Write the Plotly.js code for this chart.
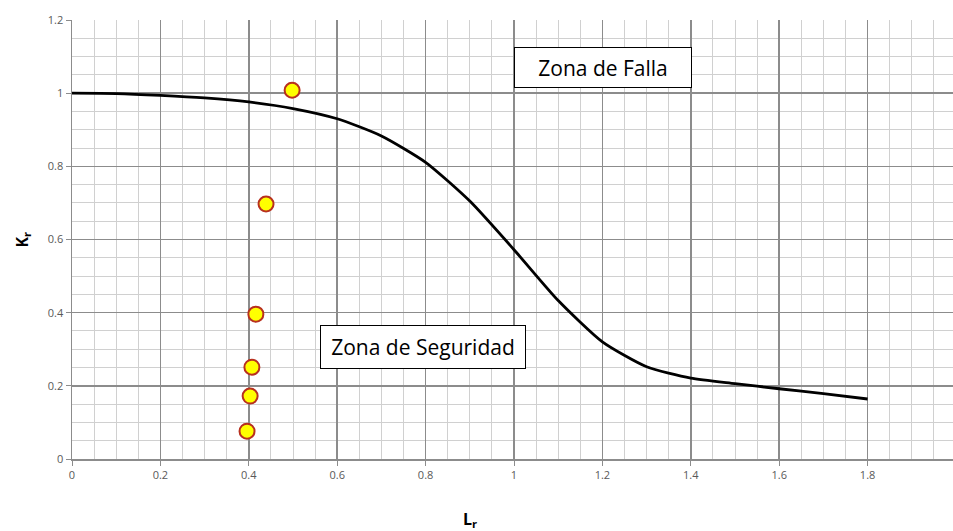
<!DOCTYPE html>
<html>
<head>
<meta charset="utf-8">
<script src="https://cdn.plot.ly/plotly-3.0.1.min.js"></script>
<style>html,body{margin:0;padding:0;background:#fff;}#chart{width:953px;height:531px;}</style>
</head>
<body>
<div id="chart"></div>
<script>
// FAD curve (Lr, Kr)
const curveLr = [0, 0.1, 0.2, 0.3, 0.4, 0.5, 0.6, 0.7, 0.8, 0.9, 1.0, 1.1, 1.2, 1.3, 1.4, 1.5, 1.6, 1.7, 1.8];
const curveKr = [1.0, 0.999, 0.994, 0.987, 0.976, 0.958, 0.930, 0.883, 0.811, 0.705, 0.572, 0.433, 0.320, 0.252, 0.221, 0.206, 0.192, 0.179, 0.164];
// assessment points
const ptLr = [0.498, 0.439, 0.416, 0.407, 0.403, 0.396];
const ptKr = [1.008, 0.697, 0.396, 0.251, 0.172, 0.076];
// tick labels
const xTicks = [0, 0.2, 0.4, 0.6, 0.8, 1, 1.2, 1.4, 1.6, 1.8];
const yTicks = [0, 0.2, 0.4, 0.6, 0.8, 1, 1.2];
const labels = ["Zona de Falla", "Zona de Seguridad"];

const tickFont = {family: "Open Sans, sans-serif", size: 11, color: "#595959"};
const traces = [
  {x: curveLr, y: curveKr, type: "scatter", mode: "lines", line: {color: "#000", width: 2.8, shape: "spline", smoothing: 0.6}, hoverinfo: "skip"},
  {x: ptLr, y: ptKr, type: "scatter", mode: "markers", marker: {size: 15, color: "#ffff00", line: {color: "#b8301f", width: 2}}, cliponaxis: false}
];
const xmax = (953 - 72) / 442;
const boxFont = {family: "Open Sans, sans-serif", size: 21, color: "#000"};
const layout = {
  width: 953, height: 531,
  margin: {l: 72, r: 0, t: 20, b: 72},
  showlegend: false,
  paper_bgcolor: "#fff", plot_bgcolor: "#fff",
  xaxis: {
    range: [0, xmax], tickvals: xTicks, ticktext: xTicks.map(String),
    showgrid: true, gridcolor: "#8c8c8c", gridwidth: 1.5,
    minor: {dtick: 0.05, tick0: 0, showgrid: true, gridcolor: "#d0d0d0", gridwidth: 1},
    showline: true, linecolor: "#8c8c8c", linewidth: 1.5,
    ticks: "outside", ticklen: 5, tickcolor: "#8c8c8c", tickfont: tickFont,
    zeroline: false, fixedrange: true
  },
  yaxis: {
    range: [0, 1.2], tickvals: yTicks, ticktext: yTicks.map(String),
    showgrid: true, gridcolor: "#8c8c8c", gridwidth: 1.5,
    minor: {dtick: 0.05, tick0: 0, showgrid: true, gridcolor: "#d0d0d0", gridwidth: 1},
    showline: true, linecolor: "#8c8c8c", linewidth: 1.5,
    ticks: "outside", ticklen: 5, tickcolor: "#8c8c8c", tickfont: tickFont,
    zeroline: false, fixedrange: true
  },
  annotations: [
    {xref: "paper", yref: "paper", x: (603 - 72) / 881, y: (459 - 67.5) / 439, text: labels[0], showarrow: false,
     xanchor: "center", yanchor: "middle",
     font: boxFont, width: 170, height: 33, align: "center", valign: "middle",
     bgcolor: "#fff", bordercolor: "#000", borderwidth: 1, borderpad: 3},
    {xref: "paper", yref: "paper", x: (423 - 72) / 881, y: (459 - 347) / 439, text: labels[1], showarrow: false,
     xanchor: "center", yanchor: "middle",
     font: boxFont, width: 198, height: 36, align: "center", valign: "middle",
     bgcolor: "#fff", bordercolor: "#000", borderwidth: 1, borderpad: 3},
    {xref: "paper", yref: "paper", x: 2 / xmax, y: 0, yshift: -20, text: "2", showarrow: false,
     font: tickFont, xanchor: "center", yanchor: "middle"},
    {xref: "paper", yref: "paper", x: (470 - 72) / 881, y: 0, yshift: -60, text: "<b>L<sub>r</sub></b>", showarrow: false,
     font: {family: "Open Sans, sans-serif", size: 16, color: "#000"}, xanchor: "center", yanchor: "middle"},
    {xref: "paper", yref: "paper", x: 0, xshift: -50, y: 0.5, text: "<b>K<sub>r</sub></b>", showarrow: false, textangle: -90,
     font: {family: "Open Sans, sans-serif", size: 16, color: "#000"}, xanchor: "center", yanchor: "middle"}
  ]
};
Plotly.newPlot("chart", traces, layout, {displayModeBar: false, staticPlot: true});
</script>
</body>
</html>
